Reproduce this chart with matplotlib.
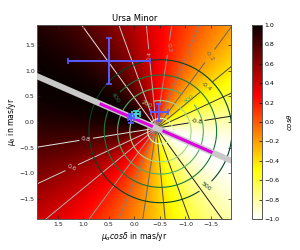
import numpy as np
import matplotlib
matplotlib.use('Agg')
import matplotlib.pyplot as plt
from matplotlib.colors import Normalize

# plot window (mas/yr), same both ways
mu_lim = 1.9

# point where the cos(theta) rays meet, mas/yr
mu0_ra = -0.43
mu0_dec = -0.12
# direction where cos(theta) = 1, degrees in the (mu_a cos d, mu_d) plane
pole_angle = 22.5
# squeeze of the rays towards the pole direction
ray_squeeze = 1.22

# centre of the speed rings, mas/yr
ring_ra0 = -0.51
ring_dec0 = -0.18

# grey band through the ray centre
band_angle = 23.5

cos_levels = [-0.8, -0.6, -0.4, -0.2, 0.0, 0.2, 0.4, 0.6, 0.8]
speed_levels = [100, 200, 300, 400, 500]
ring_radius = [0.25, 0.60, 0.84, 1.10, 1.40]

# magenta pieces along the grey band
seg1_ra = [0.68, -0.36]
seg1_dec = [0.36, -0.09]
seg2_ra = [-0.55, -1.53]
seg2_dec = [-0.17, -0.60]

# measured proper motions with errors
pm_ra = [0.50, -0.49, -0.03, 0.06]
pm_dec = [1.19, 0.19, 0.15, 0.07]
pm_ra_err = [0.80, 0.16, 0.07, 0.06]
pm_dec_err = [0.45, 0.17, 0.07, 0.08]
pm_color = ['#5a5aff', '#5a5aff', '#40d8d8', '#5a5aff']


def make_grid(n=601):
    x = np.linspace(-mu_lim, mu_lim, n)
    X, Y = np.meshgrid(x, x)
    dx = X - mu0_ra
    dy = Y - mu0_dec
    a = np.deg2rad(pole_angle)
    u = dx * np.cos(a) + dy * np.sin(a)
    v = -dx * np.sin(a) + dy * np.cos(a)
    cos_t = u / np.maximum(np.hypot(u, ray_squeeze * v), 1e-9)
    R = np.hypot(X - ring_ra0, Y - ring_dec0)
    return X, Y, R, cos_t


X, Y, R, C = make_grid()

fig = plt.figure(figsize=(3, 2.5), dpi=100)
ax = fig.add_axes([0.123, 0.124, 0.65, 0.776])

im = ax.imshow(C, extent=[-mu_lim, mu_lim, -mu_lim, mu_lim], origin='lower',
               cmap='hot_r', vmin=-1, vmax=1, interpolation='bilinear', zorder=0)

# cos(theta) rays
cs = ax.contour(X, Y, C, levels=cos_levels, cmap='gray', vmin=-1, vmax=1,
                linewidths=0.7, zorder=1)
ray_label_pos = [(0.94, -0.37), (1.17, -1.02), (-0.42, 1.30), (-0.80, 1.43),
                 (-1.17, 1.30), (-1.56, 1.23), (-1.46, 0.62), (-1.24, -0.14)]
ax.clabel(cs, fontsize=4.5, fmt='%.1f', inline=True, inline_spacing=2,
          manual=ray_label_pos)

# speed rings
ring_colors = plt.cm.YlGn(Normalize(0, 500)(speed_levels))
cr = ax.contour(X, Y, R, levels=ring_radius, colors=ring_colors,
                linewidths=0.8, zorder=2)
ring_fmt = {r: str(v) for r, v in zip(cr.levels, speed_levels)}
ring_label_pos = [(0.38, 0.47), (-1.37, -1.23), (-1.04, 0.42), (-0.26, 0.32)]
ax.clabel(cr, fontsize=4.5, fmt=ring_fmt, inline=True, inline_spacing=2,
          manual=ring_label_pos)

# grey band and magenta pieces
ax.axline((mu0_ra, mu0_dec), slope=np.tan(np.deg2rad(band_angle)),
          color='#c8c8c8', lw=4.3, zorder=3)
ax.plot(seg1_ra, seg1_dec, color='#dd00dd', lw=2.2, solid_capstyle='butt', zorder=4)
ax.plot(seg2_ra, seg2_dec, color='#dd00dd', lw=2.2, solid_capstyle='butt', zorder=4)

for i in range(len(pm_ra)):
    ax.errorbar(pm_ra[i], pm_dec[i], xerr=pm_ra_err[i], yerr=pm_dec_err[i],
                color=pm_color[i], elinewidth=1.4, capsize=2.5, capthick=1.2,
                fmt='none', zorder=5)

ax.set_xlim(mu_lim, -mu_lim)
ax.set_ylim(-mu_lim, mu_lim)
ax.set_aspect('equal')
ax.set_xticks([1.5, 1.0, 0.5, 0.0, -0.5, -1.0, -1.5])
ax.set_yticks([-1.5, -1.0, -0.5, 0.0, 0.5, 1.0, 1.5])
ax.tick_params(direction='in', top=True, right=True, labelsize=4.5,
               length=2.5, width=0.5, pad=2, colors='#222222')
for s in ax.spines.values():
    s.set_color('#555555')
    s.set_linewidth(0.7)

ax.set_title('Ursa Minor', fontsize=6, pad=3)
ax.set_xlabel(r'$\mu_\alpha cos\delta$ in mas/yr', fontsize=5.5, labelpad=2)
ax.set_ylabel(r'$\mu_\delta$ in mas/yr', fontsize=5.5, labelpad=1)

cax = fig.add_axes([0.84, 0.124, 0.033, 0.776])
cb = fig.colorbar(im, cax=cax, ticks=np.arange(-1.0, 1.01, 0.2))
cb.ax.tick_params(labelsize=4.5, direction='in', length=2.5, width=0.5, pad=2)
cb.outline.set_edgecolor('#555555')
cb.outline.set_linewidth(0.7)
cb.set_label(r'$cos\theta$', fontsize=5, labelpad=4)

fig.savefig('out.png', dpi=100)
